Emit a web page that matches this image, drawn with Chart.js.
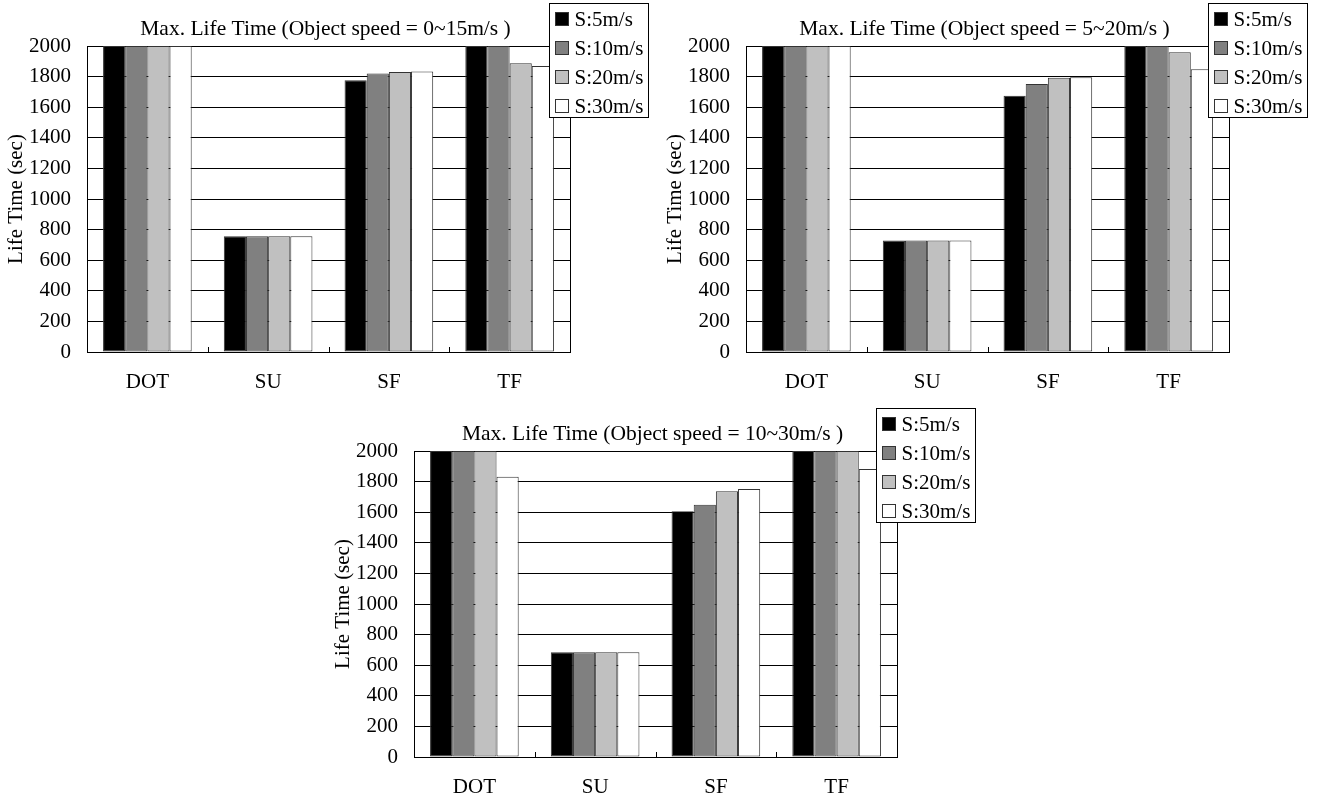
<!DOCTYPE html>
<html>
<head>
<meta charset="utf-8">
<script src="https://cdn.jsdelivr.net/npm/chart.js@4/dist/chart.umd.min.js"></script>
<style>
  html, body { margin: 0; padding: 0; background: #fff; width: 1320px; height: 800px; overflow: hidden; }
  .box { position: absolute; width: 660px; height: 395px; }
  #b1 { left: 0px; top: 0px; }
  #b2 { left: 659px; top: 0px; }
  #b3 { left: 327px; top: 405px; }
</style>
</head>
<body>
<div class="box" id="b1"><canvas id="c1"></canvas></div>
<div class="box" id="b2"><canvas id="c2"></canvas></div>
<div class="box" id="b3"><canvas id="c3"></canvas></div>
<script>
// ---- data ----
const categories = ['DOT', 'SU', 'SF', 'TF'];
const seriesLabels = ['S:5m/s', 'S:10m/s', 'S:20m/s', 'S:30m/s'];
const seriesColors = ['#000000', '#808080', '#c0c0c0', '#ffffff'];
const yTicks = [0, 200, 400, 600, 800, 1000, 1200, 1400, 1600, 1800, 2000];

const titleA = 'Max. Life Time (Object speed = 0~15m/s )';
const a_s5  = [2000, 756, 1776, 2000];
const a_s10 = [2000, 756, 1821, 2000];
const a_s20 = [2000, 756, 1830, 1887];
const a_s30 = [2000, 756, 1834, 1869];

const titleB = 'Max. Life Time (Object speed = 5~20m/s )';
const b_s5  = [2000, 728, 1675, 2000];
const b_s10 = [2000, 728, 1751, 2000];
const b_s20 = [2000, 728, 1793, 1959];
const b_s30 = [2000, 728, 1795, 1848];

const titleC = 'Max. Life Time (Object speed = 10~30m/s )';
const c_s5  = [2000, 685, 1607, 2000];
const c_s10 = [2000, 685, 1648, 2000];
const c_s20 = [2000, 685, 1737, 2000];
const c_s30 = [1832, 685, 1752, 1883];

const yTitle = 'Life Time (sec)';
const FONT = '"Liberation Serif", "Times New Roman", serif';

const decorPlugin = {
  id: 'decor',
  beforeDatasetsDraw(chart) {
    const ctx = chart.ctx, a = chart.chartArea;
    ctx.save();
    ctx.strokeStyle = '#000';
    ctx.lineWidth = 1;
    ctx.strokeRect(Math.round(a.left) + 0.5, Math.round(a.top) + 0.5,
                   Math.round(a.right - a.left), Math.round(a.bottom - a.top));
    const xs = chart.scales.x;
    for (let i = 1; i < categories.length; i++) {
      const px = Math.round((xs.getPixelForValue(i - 1) + xs.getPixelForValue(i)) / 2) + 0.5;
      ctx.beginPath();
      ctx.moveTo(px, a.bottom - 5);
      ctx.lineTo(px, a.bottom);
      ctx.stroke();
    }
    ctx.restore();
  },
  afterDraw(chart, args, opts) {
    const ctx = chart.ctx, a = chart.chartArea;
    ctx.save();
    ctx.fillStyle = '#000';
    ctx.font = '21.5px ' + FONT;
    ctx.textAlign = 'center';
    ctx.textBaseline = 'middle';
    ctx.fillText(opts.title, (a.left + a.right) / 2 - 3, a.top - 17);
    const lx = Math.round(a.left + 462) + 0.5, ly = Math.round(a.top - 43) + 0.5;
    const lw = 99, lh = 114;
    ctx.fillStyle = '#fff';
    ctx.fillRect(lx, ly, lw, lh);
    ctx.strokeStyle = '#000';
    ctx.lineWidth = 1;
    ctx.strokeRect(lx, ly, lw, lh);
    ctx.font = '21px ' + FONT;
    ctx.textAlign = 'left';
    ctx.textBaseline = 'middle';
    chart.data.datasets.forEach((ds, i) => {
      const cy = ly + 16 + i * 29;
      ctx.fillStyle = ds.backgroundColor;
      ctx.fillRect(lx + 6, cy - 7, 13, 13);
      ctx.strokeStyle = '#333';
      ctx.strokeRect(lx + 6, cy - 7, 13, 13);
      ctx.fillStyle = '#000';
      ctx.fillText(ds.label, lx + 25, cy + 1);
    });
    ctx.restore();
  }
};

function makeChart(id, title, series) {
  return new Chart(document.getElementById(id), {
    type: 'bar',
    data: {
      labels: categories,
      datasets: series.map((vals, i) => ({
        label: seriesLabels[i],
        data: vals,
        backgroundColor: seriesColors[i],
        borderColor: '#333333',
        borderWidth: 1,
        borderSkipped: false,
        categoryPercentage: 0.734,
        barPercentage: 1.0
      }))
    },
    options: {
      responsive: true,
      maintainAspectRatio: false,
      animation: false,
      devicePixelRatio: 1,
      layout: { padding: { top: 46, right: 90, left: 0, bottom: 0 } },
      plugins: {
        legend: { display: false },
        title: { display: false },
        tooltip: { enabled: false },
        decor: { title: title }
      },
      scales: {
        x: {
          grid: { display: false, drawTicks: false, tickLength: 0 },
          border: { display: true, color: '#000', width: 1 },
          ticks: { color: '#000', font: { family: FONT, size: 21 }, padding: 18 },
          afterFit(s) { s.height = 395 - 46 - 306; }
        },
        y: {
          min: 0, max: 2000,
          afterBuildTicks(s) { s.ticks = yTicks.map(v => ({ value: v })); },
          grid: { color: '#000', lineWidth: 1, drawTicks: false, tickLength: 0 },
          border: { display: true, color: '#000', width: 1 },
          ticks: { color: '#000', font: { family: FONT, size: 21 }, padding: 16,
                   callback: (v) => String(v) },
          title: { display: true, text: yTitle, color: '#000',
                   font: { family: FONT, size: 21 }, padding: { top: 4, bottom: 0 } },
          afterFit(s) { s.width = 87; }
        }
      }
    },
    plugins: [decorPlugin]
  });
}

makeChart('c1', titleA, [a_s5, a_s10, a_s20, a_s30]);
makeChart('c2', titleB, [b_s5, b_s10, b_s20, b_s30]);
makeChart('c3', titleC, [c_s5, c_s10, c_s20, c_s30]);
</script>
</body>
</html>
